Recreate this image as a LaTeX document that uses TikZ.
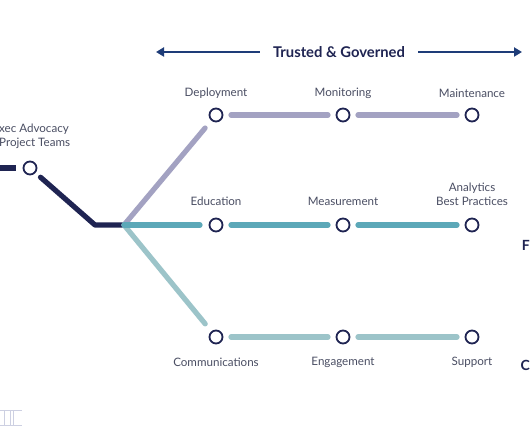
\documentclass[tikz,border=0pt]{standalone}
\usepackage{fontspec}
\setmainfont{Lato}
\usetikzlibrary{calc,arrows.meta}
\definecolor{navy}{HTML}{1F2452}
\definecolor{arrowblue}{HTML}{1E3C78}
\definecolor{lilac}{HTML}{A3A2C2}
\definecolor{teal}{HTML}{5CA8B8}
\definecolor{paleteal}{HTML}{9CC4C9}
\definecolor{txt}{HTML}{4A4E63}
\definecolor{faint}{HTML}{CDD0E2}
\tikzset{
  stop/.style={circle,draw=navy,line width=1.8pt,fill=white,minimum size=13pt,inner sep=0pt},
  lbl/.style={text=txt,font=\fontsize{11.6}{13.8}\selectfont,align=center,inner sep=0pt},
  track/.style={line width=5.2pt,line cap=round},
  navyline/.style={track,draw=navy},
  lilacline/.style={track,draw=lilac},
  tealline/.style={track,draw=teal},
  palelline/.style={track,draw=paleteal},
  garrow/.style={draw=arrowblue,line width=2.6pt,-{Triangle[length=8pt,width=9pt]}},
  cut/.style={text=navy,font=\bfseries\fontsize{14}{16}\selectfont,inner sep=0pt,anchor=east}
}
\begin{document}
\begin{tikzpicture}[x=1pt,y=-1pt]
\useasboundingbox (0,0) rectangle (530,443);
\clip (0,0) rectangle (530,443);
\fill[white] (0,0) rectangle (530,443);
% header
\node[text=navy,font=\bfseries\fontsize{14.8}{17}\selectfont,inner sep=0pt] (title) at (339,52) {Trusted \& Governed};
\coordinate (la) at (156,52);
\coordinate (ra) at (522,52);
\draw[garrow] ($(title.west)+(-13,0)$) -- (la);
\draw[garrow] ($(title.east)+(13,0)$) -- (ra);
% stops
\node[stop] (d) at (216,115) {};
\node[stop] (mo) at (343,115) {};
\node[stop] (ma) at (472,115) {};
\node[stop] (e) at (216,225) {};
\node[stop] (me) at (343,225) {};
\node[stop] (a) at (472,225) {};
\node[stop] (c) at (216,337) {};
\node[stop] (en) at (343,337) {};
\node[stop] (s) at (472,337) {};
\node[stop] (x) at (30,168) {};
% labels
\node[lbl] at (216,93) {Deployment};
\node[lbl] at (343,93) {Monitoring};
\node[lbl] at (472,93) {Maintenance};
\node[lbl] at (216,201) {Education};
\node[lbl] at (343,201) {Measurement};
\node[lbl] at (472,194) {Analytics\\Best Practices};
\node[lbl] at (216,362) {Communications};
\node[lbl] at (343,362) {Engagement};
\node[lbl] at (472,362) {Support};
\node[lbl,align=left,anchor=west] at (-1,136) {xec Advocacy\\Project Teams};
% partial right labels
\node[cut] at (530,245) {F};
\node[cut] at (530,365) {C};
% navy trunk
\coordinate (l0) at (-5,168);
\coordinate (k1) at (95,225);
\coordinate (br) at (124,225);
\draw[navyline,line cap=butt] (l0) -- ($(x)!14pt!(l0)$);
\draw[navyline,line join=round] ($(x)!14pt!(k1)$) -- (k1) -- (br);
% branches
\draw[lilacline] (br) -- ($(d)!17pt!(br)$);
\draw[palelline] (br) -- ($(c)!17pt!(br)$);
\draw[tealline] (br) -- ($(e)!16pt!(br)$);
% row segments
\draw[lilacline] ($(d)!15pt!(mo)$) -- ($(mo)!15pt!(d)$);
\draw[lilacline] ($(mo)!15pt!(ma)$) -- ($(ma)!15pt!(mo)$);
\draw[tealline] ($(e)!15pt!(me)$) -- ($(me)!15pt!(e)$);
\draw[tealline] ($(me)!15pt!(a)$) -- ($(a)!15pt!(me)$);
\draw[palelline] ($(c)!15pt!(en)$) -- ($(en)!15pt!(c)$);
\draw[palelline] ($(en)!15pt!(s)$) -- ($(s)!15pt!(en)$);
% faint logo fragment
\draw[faint,line width=0.8pt] (0,410) -- (22,410) (0,425) -- (22,425) (4,410) -- (4,425) (10,410) -- (10,425) (13,410) -- (13,425);
\end{tikzpicture}
\end{document}
